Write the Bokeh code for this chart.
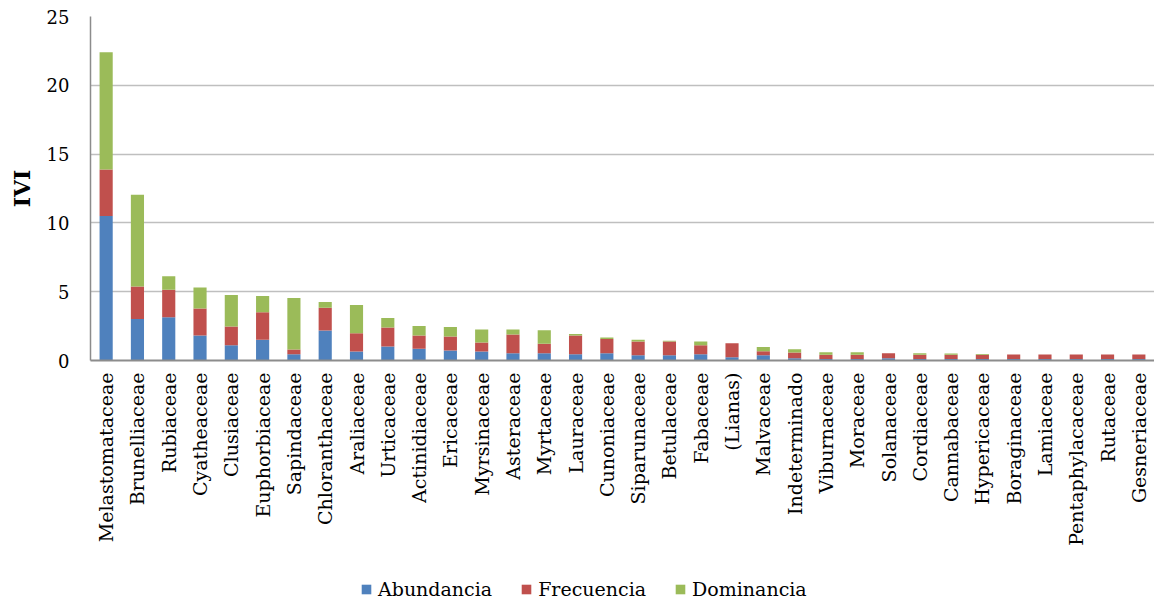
import math
from bokeh.plotting import figure
from bokeh.layouts import column
from bokeh.models import (ColumnDataSource, Legend, LegendItem, FactorRange,
                          Range1d, FixedTicker)
from bokeh.embed import file_html
from bokeh.resources import INLINE

families = ["Melastomataceae", "Brunelliaceae", "Rubiaceae", "Cyatheaceae",
            "Clusiaceae", "Euphorbiaceae", "Sapindaceae", "Chloranthaceae",
            "Araliaceae", "Urticaceae", "Actinidiaceae", "Ericaceae",
            "Myrsinaceae", "Asteraceae", "Myrtaceae", "Lauraceae",
            "Cunoniaceae", "Siparunaceae", "Betulaceae", "Fabaceae",
            "(Lianas)", "Malvaceae", "Indeterminado", "Viburnaceae",
            "Moraceae", "Solanaceae", "Cordiaceae", "Cannabaceae",
            "Hypericaceae", "Boraginaceae", "Lamiaceae", "Pentaphylacaceae",
            "Rutaceae", "Gesneriaceae"]

abundancia = [10.50, 3.02, 3.14, 1.81, 1.11, 1.50, 0.46, 2.18, 0.65, 1.02,
              0.85, 0.73, 0.65, 0.53, 0.53, 0.46, 0.53, 0.39, 0.39, 0.46,
              0.24, 0.39, 0.17, 0.10, 0.10, 0.17, 0.10, 0.10, 0.10, 0.10,
              0.10, 0.10, 0.10, 0.10]
frecuencia = [3.38, 2.35, 2.01, 1.96, 1.36, 2.01, 0.34, 1.66, 1.33, 1.37,
              0.96, 1.01, 0.66, 1.36, 0.68, 1.35, 1.04, 0.99, 0.99, 0.65,
              1.02, 0.29, 0.41, 0.31, 0.31, 0.36, 0.31, 0.31, 0.31, 0.34,
              0.34, 0.34, 0.34, 0.34]
dominancia = [8.53, 6.67, 0.97, 1.53, 2.29, 1.18, 3.75, 0.42, 2.06, 0.70,
              0.70, 0.70, 0.94, 0.36, 0.99, 0.12, 0.10, 0.12, 0.05, 0.27,
              0.00, 0.31, 0.24, 0.19, 0.19, 0.00, 0.12, 0.10, 0.07, 0.00,
              0.00, 0.00, 0.00, 0.00]

series = ["Abundancia", "Frecuencia", "Dominancia"]
colors = ["#4F81BD", "#C0504D", "#9BBB59"]
y_ticks = [0, 5, 10, 15, 20, 25]

src = ColumnDataSource(dict(family=families, Abundancia=abundancia,
                            Frecuencia=frecuencia, Dominancia=dominancia))

SERIF = "DejaVu Serif"
TOTAL_W = 1154
LEFT = 90
TOP = 16
FRAME_H = 344
BOTTOM = 205
LEG_H = 600 - TOP - FRAME_H - BOTTOM

p = figure(x_range=FactorRange(factors=families, range_padding=0),
           y_range=Range1d(0, 25), frame_width=TOTAL_W - LEFT,
           frame_height=FRAME_H,
           output_backend="svg", toolbar_location=None,
           min_border_left=LEFT, min_border_right=0, min_border_top=TOP,
           min_border_bottom=BOTTOM)

rs = p.vbar_stack(series, x="family", width=0.42, color=colors, source=src,
                  line_color=None)

# x axis
p.xaxis.major_label_orientation = math.pi / 2
p.xaxis.major_label_standoff = 12
p.xaxis.major_label_text_font = SERIF
p.xaxis.major_label_text_font_size = "19px"
p.xaxis.major_label_text_color = "#000000"
p.xaxis.major_tick_out = 0
p.xaxis.major_tick_in = 0
p.xaxis.minor_tick_out = 0
p.xaxis.axis_line_color = "#8c8c8c"
p.xaxis.axis_line_width = 2

# y axis
p.yaxis.ticker = FixedTicker(ticks=y_ticks)
p.yaxis.major_tick_out = 0
p.yaxis.major_tick_in = 0
p.yaxis.minor_tick_out = 0
p.yaxis.minor_tick_in = 0
p.yaxis.major_label_standoff = 21
p.yaxis.major_label_text_font = SERIF
p.yaxis.major_label_text_font_size = "18px"
p.yaxis.major_label_text_color = "#000000"
p.yaxis.axis_line_color = "#8c8c8c"
p.yaxis.axis_line_width = 1.5
p.yaxis.axis_label = "IVI"
p.yaxis.axis_label_text_font = SERIF
p.yaxis.axis_label_text_font_style = "bold"
p.yaxis.axis_label_text_font_size = "22px"
p.yaxis.axis_label_text_color = "#000000"
p.yaxis.axis_label_standoff = 9

p.ygrid.grid_line_color = "#bfbfbf"
p.ygrid.grid_line_width = 1.5
p.xgrid.grid_line_color = None
p.outline_line_color = None

# legend strip under the chart: same stacked bars, hidden, used only as
# legend entries
lf = figure(width=TOTAL_W, height=LEG_H, output_backend="svg",
            toolbar_location=None,
            x_range=FactorRange(factors=families, range_padding=0),
            y_range=Range1d(0, 25),
            min_border=0, min_border_left=0, min_border_right=0,
            min_border_top=0, min_border_bottom=0)
lf.axis.visible = False
lf.grid.visible = False
lf.outline_line_color = None
lrs = lf.vbar_stack(series, x="family", width=0.42, color=colors, source=src,
                    line_color=None)
for r in lrs:
    r.visible = False
items = [LegendItem(label=s, renderers=[r]) for s, r in zip(series, lrs)]
legend = Legend(items=items, orientation="horizontal", location=(270, 0),
                glyph_width=12, glyph_height=12, spacing=28,
                label_standoff=6, padding=1, margin=0,
                label_text_font=SERIF, label_text_font_size="19px",
                label_text_color="#000000",
                inactive_fill_alpha=0,
                border_line_color=None, background_fill_alpha=0)
lf.add_layout(legend, "center")

layout = column(p, lf, spacing=0)
open("out.html", "w").write(file_html(layout, INLINE))
